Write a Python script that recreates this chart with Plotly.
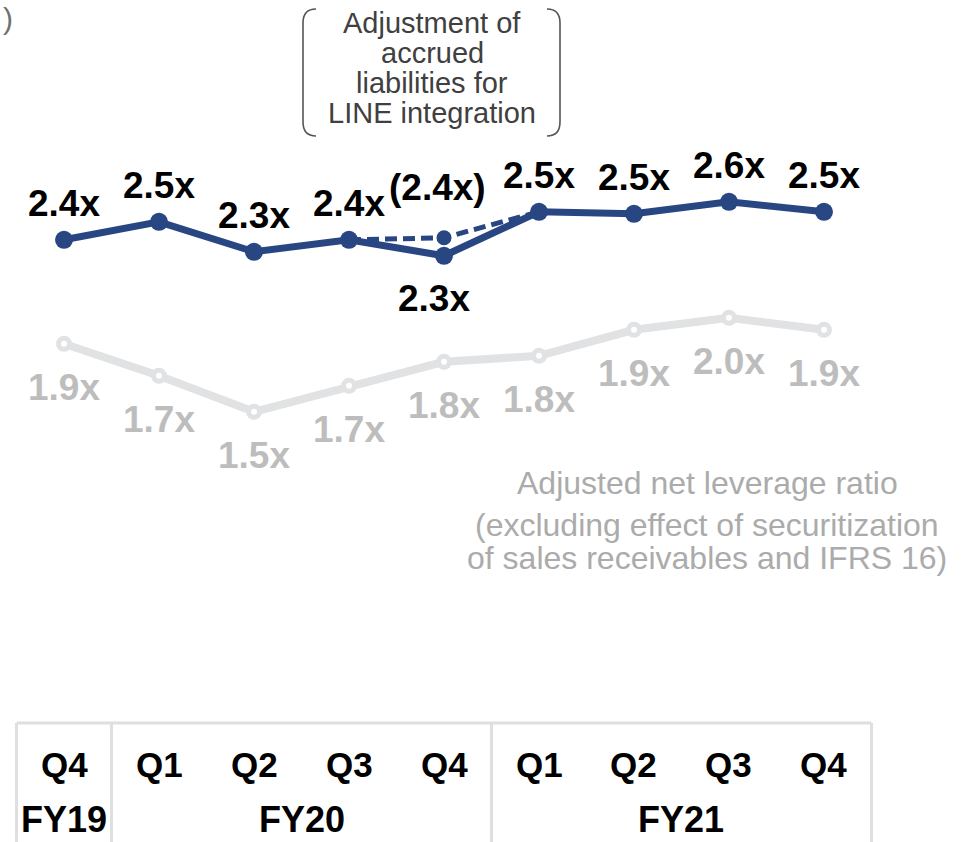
import plotly.graph_objects as go

# ---- data -------------------------------------------------------------
quarters = ["Q4", "Q1", "Q2", "Q3", "Q4", "Q1", "Q2", "Q3", "Q4"]
fiscal_years = ["FY19", "FY20", "FY21"]
quarters_per_year = [1, 4, 4]

# Net leverage ratio (reported)
net_leverage = [2.39, 2.48, 2.33, 2.39, 2.31, 2.53, 2.52, 2.58, 2.53]
# Same ratio excluding the adjustment of accrued liabilities (Q3 FY20 - Q1 FY21)
excl_adj_idx = [3, 4, 5]
excl_adj_values = [2.39, 2.40, 2.53]
# Adjusted net leverage ratio (excl. securitization of sales receivables and IFRS 16)
adjusted_leverage = [1.87, 1.71, 1.53, 1.66, 1.78, 1.81, 1.94, 2.00, 1.94]

box_lines = ["Adjustment of", "accrued", "liabilities for", "LINE integration"]
caption_lines = ["Adjusted net leverage ratio",
                 "(excluding effect of securitization",
                 "of sales receivables and IFRS 16)"]

# ---- styling ----------------------------------------------------------
W, H = 972, 842
FONT = "Liberation Sans, Arial, sans-serif"
NAVY = "#284682"
LIGHT = "#e1e2e4"
GRAY_TXT = "#bdbdbd"
GRID = "#dedfe1"


def px(x):
    return x / W


def py(y):
    return 1 - y / H


x = list(range(len(quarters)))

fig = go.Figure()

# adjusted ratio (light grey, hollow markers)
fig.add_trace(go.Scatter(
    x=x, y=adjusted_leverage, mode="lines+markers",
    line=dict(color=LIGHT, width=8),
    marker=dict(size=11, color="white", line=dict(color=LIGHT, width=5)),
    hoverinfo="skip", showlegend=False))

# dashed path without the adjustment
fig.add_trace(go.Scatter(
    x=excl_adj_idx, y=excl_adj_values, mode="lines+markers",
    line=dict(color=NAVY, width=5, dash="12px,6px"),
    marker=dict(size=15, color=NAVY),
    hoverinfo="skip", showlegend=False))

# reported ratio
fig.add_trace(go.Scatter(
    x=x, y=net_leverage, mode="lines+markers",
    line=dict(color=NAVY, width=7),
    marker=dict(size=18, color=NAVY),
    hoverinfo="skip", showlegend=False))

ann = []
label_font = dict(family=FONT, size=37, color="black")
axis_font = dict(family=FONT, size=35, color="black")

# value labels for the reported ratio
for i, v in enumerate(net_leverage):
    if i == 4:
        ann.append(dict(x=i, y=v, xref="x", yref="y", text=f"<b>{v:.1f}x</b>",
                        showarrow=False, yanchor="middle", xshift=-10, yshift=-43,
                        font=label_font))
    else:
        ann.append(dict(x=i, y=v, xref="x", yref="y", text=f"<b>{v:.1f}x</b>",
                        showarrow=False, yanchor="middle", yshift=36, font=label_font))

# label for the unadjusted Q4 FY20 point
j = excl_adj_idx.index(4)
ann.append(dict(x=4, y=excl_adj_values[j], xref="x", yref="y",
                text=f"<b>({excl_adj_values[j]:.1f}x)</b>", showarrow=False,
                yanchor="middle", xshift=-7, yshift=50, font=label_font))

# value labels for the adjusted ratio
for i, v in enumerate(adjusted_leverage):
    ann.append(dict(x=i, y=v, xref="x", yref="y", text=f"<b>{v:.1f}x</b>",
                    showarrow=False, yanchor="middle", yshift=-44,
                    font=dict(family=FONT, size=37, color=GRAY_TXT)))

# bracketed note
for k, line in enumerate(box_lines):
    ann.append(dict(x=px(432), y=py(23 + 30 * k), xref="paper", yref="paper",
                    text=line, showarrow=False, xanchor="center", yanchor="middle",
                    font=dict(family=FONT, size=29, color="#404040")))

# caption for the grey series
for k, (line, yy) in enumerate(zip(caption_lines, [483, 525, 558])):
    ann.append(dict(x=px(707), y=py(yy), xref="paper", yref="paper",
                    text=line, showarrow=False, xanchor="center", yanchor="middle",
                    font=dict(family=FONT, size=32, color="#ababab")))

# unit bracket at the top-left corner
ann.append(dict(x=px(8), y=1, xref="paper", yref="paper", text=")",
                showarrow=False, xanchor="center", yanchor="top",
                font=dict(family=FONT, size=30, color="#707070")))

# quarter row
for i, q in enumerate(quarters):
    ann.append(dict(x=i, y=py(764), xref="x", yref="paper", text=f"<b>{q}</b>",
                    showarrow=False, yanchor="middle", font=axis_font))

# fiscal-year row, centred over its quarters
start = 0
bounds = [start - 0.5]
for fy, n in zip(fiscal_years, quarters_per_year):
    centre = start + (n - 1) / 2
    ann.append(dict(x=centre, y=0, xref="x", yref="paper", text=f"<b>{fy}</b>",
                    showarrow=False, yanchor="bottom",
                    font=dict(family=FONT, size=36, color="black")))
    start += n
    bounds.append(start - 0.5)

shapes = []
# table frame
shapes.append(dict(type="line", xref="x", yref="paper", x0=bounds[0], x1=bounds[-1],
                   y0=py(723), y1=py(723), line=dict(color=GRID, width=3)))
for b in bounds:
    shapes.append(dict(type="line", xref="x", yref="paper", x0=b, x1=b,
                       y0=py(723), y1=py(850), line=dict(color=GRID, width=3)))


def bracket(xv, xe, y1, y2, r):
    """Rounded bracket: vertical stroke at xv, curling towards xe at both ends."""
    return (f"M {px(xe)},{py(y1)} Q {px(xv)},{py(y1)} {px(xv)},{py(y1 + r)} "
            f"L {px(xv)},{py(y2 - r)} Q {px(xv)},{py(y2)} {px(xe)},{py(y2)}")


shapes.append(dict(type="path", xref="paper", yref="paper",
                   path=bracket(303, 316, 9, 136, 14),
                   line=dict(color="#555555", width=1.6)))
shapes.append(dict(type="path", xref="paper", yref="paper",
                   path=bracket(560, 547, 9, 136, 14),
                   line=dict(color="#555555", width=1.6)))

fig.update_layout(
    width=W, height=H,
    margin=dict(l=0, r=0, t=0, b=0),
    paper_bgcolor="white", plot_bgcolor="white",
    xaxis=dict(range=[-0.6737, 9.558], visible=False, fixedrange=True),
    yaxis=dict(range=[-0.621, 3.589], visible=False, fixedrange=True),
    annotations=ann, shapes=shapes, showlegend=False,
)

fig.write_html("out.html")
